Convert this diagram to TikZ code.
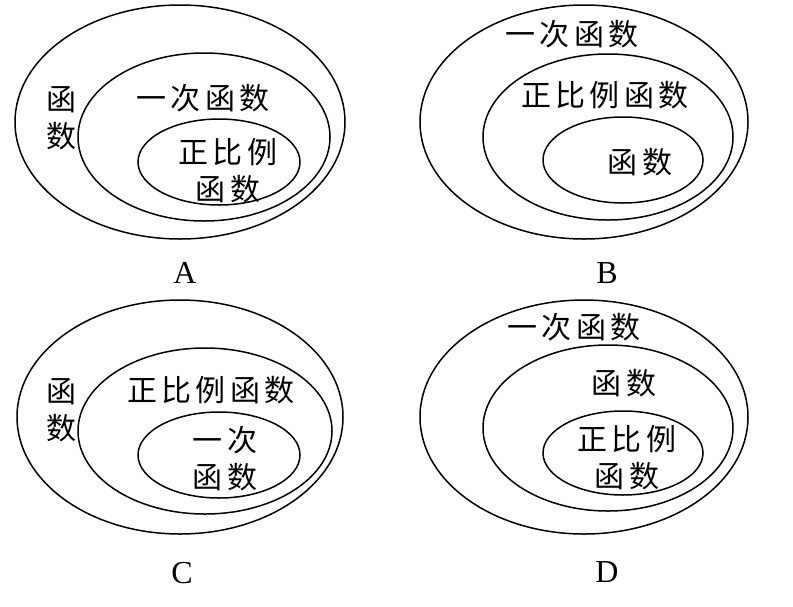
\documentclass[tikz,border=0pt]{standalone}
\usepackage{fontspec}
\setmainfont{Liberation Serif}
\newfontfamily\cjk[LetterSpace=14]{Noto Sans CJK SC}
\begin{document}
\begin{tikzpicture}[x=1pt,y=-1pt,
  ell/.style={draw, line width=1.5pt},
  lab/.style={font=\cjk\fontsize{30}{37}\selectfont, inner sep=0pt, align=center},
  letter/.style={font=\fontsize{32}{36}\selectfont, inner sep=0pt}]
\useasboundingbox (0,0) rectangle (793,606);
% Panel A
\draw[ell] (180,122) ellipse [x radius=165, y radius=117];
\draw[ell] (204,137) ellipse [x radius=126, y radius=84];
\draw[ell] (219,162) ellipse [x radius=81, y radius=43];
\node[lab] (a1) at (61,118) {函\\数};
\node[lab] (a2) at (203,98) {一次函数};
\node[lab] (a3) at (228,171) {正比例\\函数};
\node[letter] (la) at (185,273) {A};
% Panel B
\draw[ell] (584,122) ellipse [x radius=164, y radius=117];
\draw[ell] (608,137) ellipse [x radius=125, y radius=83];
\draw[ell] (623,160) ellipse [x radius=80, y radius=43];
\node[lab] (b1) at (572,34) {一次函数};
\node[lab] (b2) at (605,95) {正比例函数};
\node[lab] (b3) at (640,162) {函数};
\node[letter] (lb) at (607,273) {B};
% Panel C
\draw[ell] (180,417) ellipse [x radius=163, y radius=117];
\draw[ell] (205,431) ellipse [x radius=127, y radius=83];
\draw[ell] (219,455) ellipse [x radius=81, y radius=43];
\node[lab] (c1) at (61,410) {函\\数};
\node[lab] (c2) at (211,390) {正比例函数};
\node[lab] (c3) at (225,459) {一次\\函数};
\node[letter] (lc) at (182,573) {C};
% Panel D
\draw[ell] (584,417) ellipse [x radius=164, y radius=117];
\draw[ell] (608,428) ellipse [x radius=125, y radius=83];
\draw[ell] (623,453) ellipse [x radius=80, y radius=42];
\node[lab] (d1) at (574,327) {一次函数};
\node[lab] (d2) at (624,383) {函数};
\node[lab] (d3) at (627,458) {正比例\\函数};
\node[letter] (ld) at (607,572) {D};
\end{tikzpicture}
\end{document}
